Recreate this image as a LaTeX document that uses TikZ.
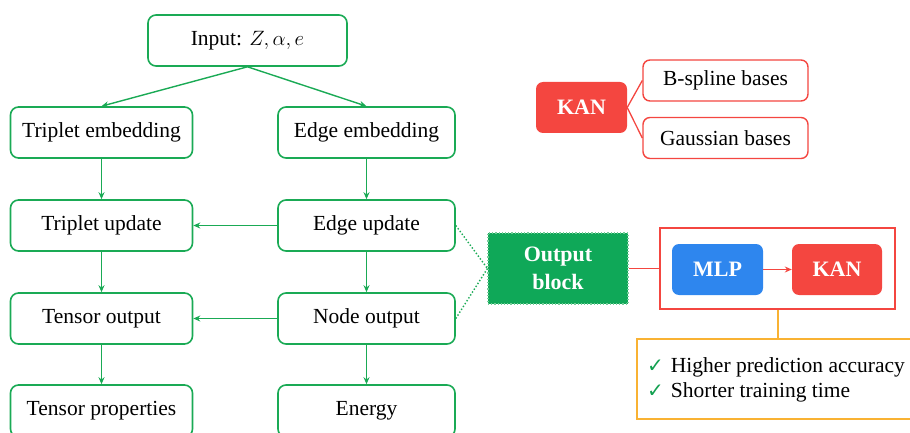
\documentclass[tikz,border=0pt]{standalone}
\usepackage{fontspec}
\setmainfont{Liberation Serif}
\newfontfamily\symfont{DejaVu Sans}
\usetikzlibrary{arrows.meta}
\definecolor{gline}{HTML}{1AAA55}
\definecolor{gfill}{HTML}{0FA858}
\definecolor{rline}{HTML}{F44640}
\definecolor{bfill}{HTML}{2E86EE}
\definecolor{oline}{HTML}{F9B233}
\definecolor{ckgreen}{HTML}{12A050}
\tikzset{
  gbox/.style={draw=gline, line width=1.6pt, rounded corners=8pt, fill=white,
    minimum width=182pt, minimum height=51pt, inner sep=0pt,
    font=\fontsize{21.5}{25}\selectfont},
  rbox/.style={draw=rline, line width=1.4pt, rounded corners=7pt, fill=white,
    minimum width=165pt, minimum height=41pt, inner sep=0pt,
    font=\fontsize{21.5}{25}\selectfont},
  filledbox/.style={rounded corners=7pt, inner sep=0pt, text=white,
    font=\bfseries\fontsize{22}{25}\selectfont},
  garrow/.style={draw=gline, line width=1.4pt, -{Stealth[length=7pt,width=6pt]}},
  gdot/.style={draw=gline, line width=1.4pt, dotted},
}
\begin{document}
\begin{tikzpicture}[x=1pt,y=-1pt]
\clip (0,0) rectangle (910,433);
\useasboundingbox (0,0) rectangle (910,433);
% left flow
\node[gbox, minimum width=199pt] (inp) at (247.5,40.5) {Input: $Z,\alpha,e$};
\node[gbox] (temb) at (101.5,132.5) {Triplet embedding};
\node[gbox, minimum width=177pt] (eemb) at (366.5,132.5) {Edge embedding};
\node[gbox] (tupd) at (101.5,225.5) {Triplet update};
\node[gbox, minimum width=177pt] (eupd) at (366.5,225.5) {Edge update};
\node[gbox] (tout) at (101.5,318.5) {Tensor output};
\node[gbox, minimum width=177pt] (nout) at (366.5,318.5) {Node output};
\node[gbox, minimum height=52pt] (tprop) at (101.5,411) {Tensor properties};
\node[gbox, minimum width=177pt, minimum height=52pt] (energy) at (366.5,411) {Energy};
\draw[garrow] (inp.south) -- (temb.north);
\draw[garrow] (inp.south) -- (eemb.north);
\draw[garrow] (temb) -- (tupd);
\draw[garrow] (eemb) -- (eupd);
\draw[garrow] (tupd) -- (tout);
\draw[garrow] (eupd) -- (nout);
\draw[garrow] (tout) -- (tprop);
\draw[garrow] (nout) -- (energy);
\draw[garrow] (eupd) -- (tupd);
\draw[garrow] (nout) -- (tout);
% output block
\node[fill=gfill, draw=gline!60!white, line width=1.2pt, dotted, minimum width=140pt,
  minimum height=71pt, inner sep=0pt, text=white, align=center,
  font=\bfseries\fontsize{22}{28}\selectfont] (ob) at (558,268.5) {Output\\block};
\draw[gdot] (eupd.east) -- (ob.west);
\draw[gdot] (nout.east) -- (ob.west);
% red container
\node[draw=rline, line width=1.6pt, minimum width=235pt, minimum height=81pt, inner sep=0pt] (rc) at (777.5,268.5) {};
\draw[draw=rline, line width=1.6pt] (ob.east) -- (rc.west);
\node[filledbox, fill=bfill, minimum width=91pt, minimum height=51pt] (mlp) at (717.5,269.5) {MLP};
\node[filledbox, fill=rline, minimum width=90pt, minimum height=51pt] (kan2) at (837,269.5) {KAN};
\draw[draw=rline, line width=1.4pt, -{Stealth[length=7pt,width=6pt]}] (mlp) -- (kan2);
% orange box
\node[draw=oline, line width=1.6pt, minimum width=290pt, minimum height=80pt, inner sep=0pt, anchor=north west] (ob2) at (636,338) {};
\coordinate (otop) at (778,338);
\draw[draw=oline, line width=1.6pt] (rc.south -| otop) -- (otop);
\node[anchor=west, inner sep=0pt, font=\fontsize{21.5}{25}\selectfont] (l1) at (647,367) {{\symfont\color{ckgreen}\fontsize{20}{22}\selectfont ✓}\hspace{7pt}Higher prediction accuracy};
\node[anchor=west, inner sep=0pt, font=\fontsize{21.5}{25}\selectfont] (l2) at (647,392) {{\symfont\color{ckgreen}\fontsize{20}{22}\selectfont ✓}\hspace{7pt}Shorter training time};
% KAN bases
\node[filledbox, fill=rline, minimum width=91pt, minimum height=51pt] (kan) at (581.5,107.5) {KAN};
\node[rbox] (bsp) at (725.5,80.5) {B-spline bases};
\node[rbox] (gau) at (725.5,138) {Gaussian bases};
\draw[draw=rline, line width=1.3pt] (kan.east) -- (bsp.west);
\draw[draw=rline, line width=1.3pt] (kan.east) -- (gau.west);
\end{tikzpicture}
\end{document}
